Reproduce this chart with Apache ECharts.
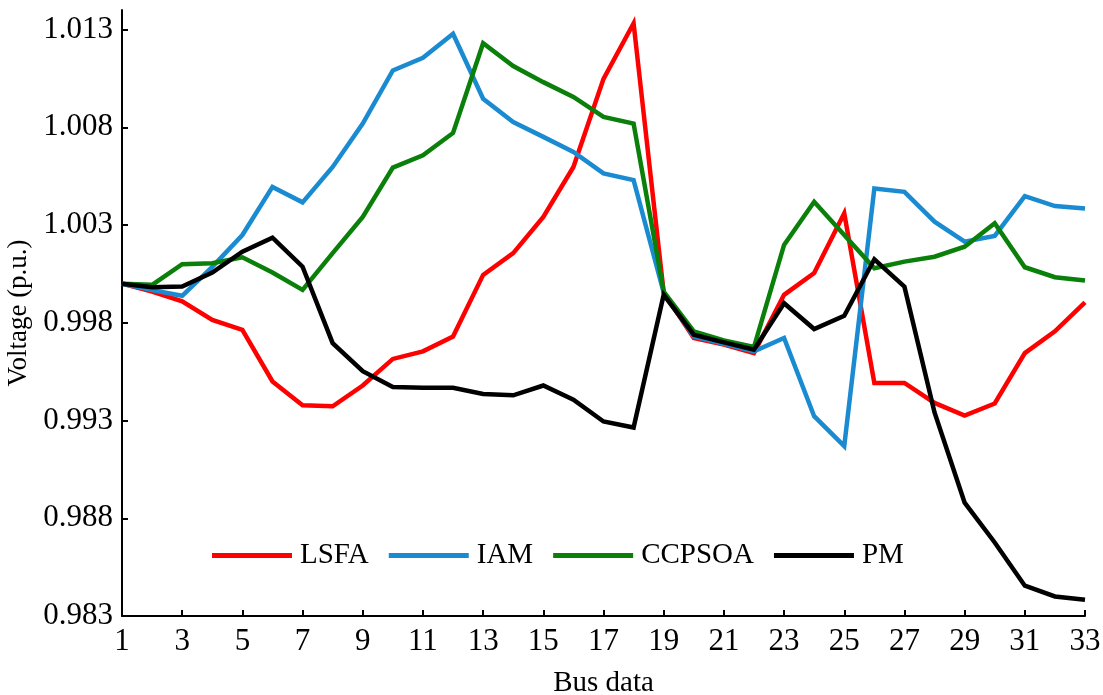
<!DOCTYPE html>
<html>
<head>
<meta charset="utf-8">
<script src="https://cdn.jsdelivr.net/npm/echarts@6/dist/echarts.min.js"></script>
<style>html,body{margin:0;padding:0;background:#fff;}#c{width:1103px;height:695px;}</style>
</head>
<body>
<div id="c"></div>
<script>
const buses = Array.from({length: 33}, (_, i) => String(i + 1));
const yTicks = [0.983, 0.988, 0.993, 0.998, 1.003, 1.008, 1.013];
const seriesNames = ['LSFA', 'IAM', 'CCPSOA', 'PM'];
const lsfa = [1.0000, 0.9996, 0.9991, 0.99815, 0.99764, 0.9950, 0.99378, 0.99373, 0.99479, 0.99615, 0.99654, 0.9973, 1.00045, 1.00156, 1.00342, 1.00597, 1.01048, 1.01332, 0.99955, 0.99722, 0.99688, 0.99645, 0.99943, 1.00054, 1.0036, 0.99492, 0.99492, 0.9939, 0.99325, 0.99387, 0.99645, 0.99756, 0.99904];
const iam = [1.0000, 0.99967, 0.99938, 1.00086, 1.00249, 1.00495, 1.00416, 1.00597, 1.00819, 1.01091, 1.01156, 1.01278, 1.00946, 1.00827, 1.00751, 1.00674, 1.00564, 1.0053, 0.99955, 0.9973, 0.99693, 0.99654, 0.99722, 0.99322, 0.99169, 1.00487, 1.0047, 1.00317, 1.00215, 1.00244, 1.00448, 1.00397, 1.00385];
const ccpsoa = [1.0000, 0.99994, 1.0010, 1.00105, 1.00135, 1.00057, 0.99968, 1.00156, 1.00342, 1.00594, 1.00657, 1.00771, 1.0123, 1.01113, 1.01031, 1.00955, 1.00853, 1.00819, 0.9996, 0.99756, 0.9971, 0.99676, 1.00198, 1.00419, 1.00249, 1.00079, 1.00113, 1.00138, 1.00189, 1.00309, 1.00084, 1.00033, 1.00016];
const pm = [1.0000, 0.99982, 0.99985, 1.00057, 1.00164, 1.00235, 1.00087, 0.99696, 0.99552, 0.99472, 0.99467, 0.99467, 0.99436, 0.99429, 0.99479, 0.99407, 0.99295, 0.99264, 0.99943, 0.99739, 0.9970, 0.99662, 0.9990, 0.99768, 0.99836, 1.00125, 0.99985, 0.99341, 0.9888, 0.98676, 0.98455, 0.9840, 0.98383];
const colors = ['#ff0000', '#1b8bd1', '#0a800a', '#000000'];

const FONT = '"Liberation Serif", "Times New Roman", serif';
const chart = echarts.init(document.getElementById('c'), null, {renderer: 'canvas'});
const allData = [lsfa, iam, ccpsoa, pm];
chart.setOption({
  animation: false,
  backgroundColor: '#ffffff',
  textStyle: {fontFamily: FONT, color: '#000'},
  grid: {left: 122, right: 18, top: 10, bottom: 79, containLabel: false, outerBoundsMode: 'none'},
  legend: {
    left: 207, top: 536,
    icon: 'rect',
    itemWidth: 80, itemHeight: 5, itemGap: 20,
    data: seriesNames,
    textStyle: {fontFamily: FONT, fontSize: 29, color: '#000', padding: [0, 0, 0, 3]}
  },
  xAxis: {
    type: 'category',
    data: buses,
    boundaryGap: false,
    name: 'Bus data',
    nameLocation: 'middle',
    nameGap: 53,
    nameTextStyle: {fontFamily: FONT, fontSize: 29, color: '#000'},
    axisLine: {lineStyle: {color: '#000', width: 2}},
    axisTick: {inside: true, length: 6, interval: 1, lineStyle: {color: '#000', width: 2}},
    axisLabel: {interval: 1, fontFamily: FONT, fontSize: 31, color: '#000', margin: 10},
    splitLine: {show: false}
  },
  yAxis: {
    type: 'value',
    min: 0.983,
    max: 1.014,
    name: 'Voltage (p.u.)',
    nameLocation: 'middle',
    nameRotate: 90,
    nameGap: 88,
    nameTextStyle: {fontFamily: FONT, fontSize: 27, color: '#000'},
    axisLine: {show: true, lineStyle: {color: '#000', width: 2}},
    axisTick: {show: true, inside: true, length: 6, customValues: yTicks, lineStyle: {color: '#000', width: 2}},
    axisLabel: {customValues: yTicks, fontFamily: FONT, fontSize: 31, color: '#000', margin: 9,
      formatter: v => Number(v).toFixed(3)},
    splitLine: {show: false}
  },
  series: seriesNames.map((n, i) => ({
    name: n,
    type: 'line',
    data: allData[i],
    symbol: 'none',
    color: colors[i],
    itemStyle: {color: colors[i]},
    lineStyle: {color: colors[i], width: 4.5, join: 'miter'},
    z: 2 + i
  }))
});
</script>
</body>
</html>
